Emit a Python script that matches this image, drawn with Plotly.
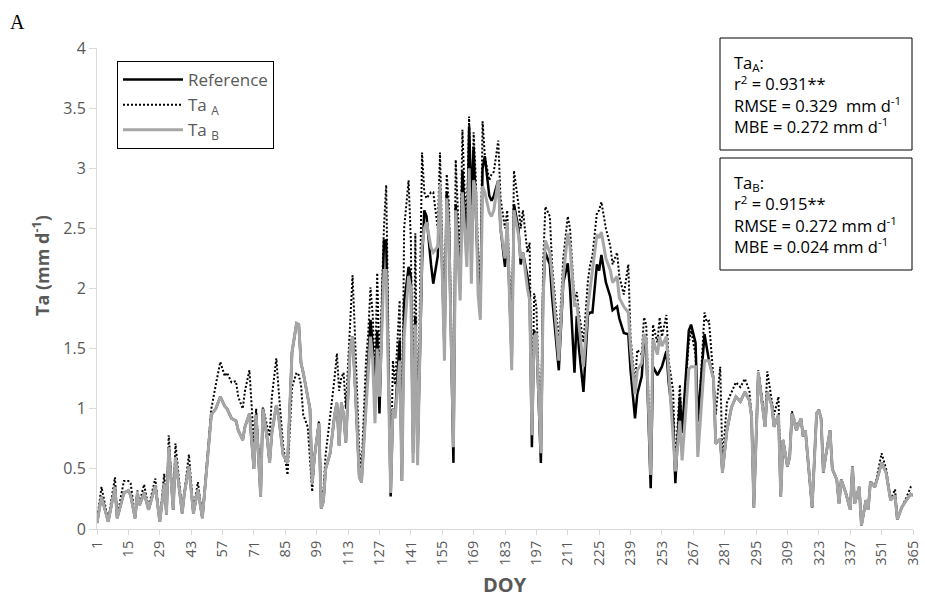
import plotly.graph_objects as go

# Day of year of each vertex
doy = [1, 3, 6, 9, 10, 13, 15, 16, 18, 19, 20, 22, 24, 27, 29, 31, 32, 33, 35, 36,
       39, 40, 42, 44, 46, 48, 50, 52, 54, 56, 58, 59, 61, 63, 64, 66, 67, 69, 71, 72,
       74, 75, 77, 78, 79, 81, 82, 84, 86, 88, 90, 91, 92, 93, 95, 96, 97, 98, 100, 101,
       102, 103, 105, 107, 108, 109, 110, 111, 112, 114, 115, 116, 118, 119, 121, 122, 123, 124, 125, 126,
       127, 129, 130, 132, 133, 134, 136, 137, 138, 140, 141, 142, 143, 144, 146, 147, 148, 150, 151, 153,
       154, 156, 157, 158, 160, 161, 163, 164, 165, 166, 167, 168, 169, 170, 171, 172, 173, 174, 176, 177,
       178, 180, 181, 183, 184, 186, 187, 189, 190, 191, 193, 194, 195, 196, 197, 199, 200, 201, 203, 204,
       207, 209, 211, 212, 214, 215, 216, 218, 220, 221, 222, 224, 225, 226, 228, 230, 231, 233, 234, 236,
       238, 239, 241, 242, 244, 245, 246, 248, 249, 251, 252, 253, 255, 256, 258, 259, 261, 262, 265, 266,
       268, 269, 272, 273, 274, 276, 277, 279, 280, 282, 284, 286, 288, 290, 292, 293, 294, 296, 298, 299,
       300, 302, 303, 305, 306, 307, 309, 310, 311, 313, 315, 316, 317, 319, 320, 322, 323, 324, 325, 326,
       328, 329, 331, 332, 333, 335, 337, 338, 339, 341, 342, 344, 345, 346, 348, 351, 353, 355, 357, 358,
       360, 362, 364, 365]

ta_b = [0.05, 0.27, 0.06, 0.35, 0.09, 0.30, 0.32, 0.28, 0.09, 0.30, 0.20, 0.30, 0.16, 0.36, 0.06, 0.38, 0.12, 0.68, 0.16, 0.60,
        0.13, 0.30, 0.52, 0.13, 0.33, 0.09, 0.52, 0.95, 1.00, 1.10, 1.02, 1.00, 0.92, 0.90, 0.82, 0.74, 0.85, 0.96, 0.50, 0.95,
        0.27, 1.00, 0.74, 0.55, 0.80, 1.03, 0.94, 0.62, 0.55, 1.47, 1.71, 1.70, 1.38, 1.30, 1.10, 1.00, 0.38, 0.60, 0.88, 0.17,
        0.23, 0.50, 0.63, 0.95, 1.05, 0.69, 1.05, 0.95, 0.72, 1.52, 1.60, 1.25, 0.43, 0.39, 1.00, 1.35, 1.60, 1.40, 0.88, 1.50,
        1.10, 2.15, 2.15, 0.30, 1.00, 0.92, 1.40, 0.40, 1.60, 2.10, 2.00, 0.55, 1.70, 0.53, 2.35, 2.50, 2.55, 2.34, 2.30, 2.35,
        2.87, 1.40, 2.75, 2.45, 0.68, 2.65, 1.90, 2.80, 2.50, 2.18, 3.00, 2.04, 2.90, 2.80, 1.95, 1.74, 2.85, 2.80, 2.63, 2.60,
        2.65, 2.90, 2.50, 2.25, 2.55, 1.32, 2.65, 2.45, 2.25, 2.30, 2.00, 1.90, 0.78, 1.60, 1.63, 0.63, 1.90, 2.40, 2.30, 2.10,
        1.40, 2.10, 2.46, 2.35, 1.85, 1.88, 1.70, 1.35, 1.85, 2.00, 2.10, 2.45, 2.42, 2.47, 2.25, 2.15, 2.05, 2.10, 1.92, 1.85,
        1.80, 1.50, 1.12, 1.32, 1.38, 1.62, 1.58, 0.45, 1.58, 1.45, 1.60, 1.52, 1.60, 1.33, 0.80, 0.48, 0.90, 0.57, 1.33, 1.35,
        1.35, 0.60, 1.40, 1.40, 1.40, 1.25, 0.71, 0.75, 0.47, 0.82, 1.01, 1.10, 1.06, 1.14, 1.07, 0.93, 0.18, 1.30, 1.01, 0.85,
        1.14, 1.03, 0.85, 0.95, 0.27, 0.74, 0.52, 0.60, 0.96, 0.82, 0.92, 0.77, 0.82, 0.38, 0.18, 0.96, 0.99, 0.92, 0.47, 0.60,
        0.82, 0.50, 0.41, 0.21, 0.41, 0.30, 0.16, 0.52, 0.21, 0.35, 0.03, 0.24, 0.16, 0.39, 0.35, 0.55, 0.47, 0.24, 0.28, 0.08,
        0.18, 0.24, 0.29, 0.28]

ta_a = [0.07, 0.35, 0.07, 0.43, 0.10, 0.40, 0.40, 0.38, 0.10, 0.32, 0.22, 0.37, 0.18, 0.42, 0.07, 0.46, 0.14, 0.78, 0.18, 0.71,
        0.15, 0.32, 0.62, 0.15, 0.39, 0.10, 0.55, 1.00, 1.20, 1.39, 1.27, 1.30, 1.22, 1.23, 1.10, 1.00, 1.15, 1.32, 0.72, 1.00,
        0.35, 1.01, 0.85, 0.77, 1.10, 1.42, 1.16, 0.70, 0.45, 1.18, 1.30, 1.28, 1.20, 0.95, 0.85, 0.57, 0.31, 0.60, 0.90, 0.30,
        0.32, 0.62, 0.93, 1.26, 1.46, 1.15, 1.26, 1.30, 1.00, 1.82, 2.11, 1.65, 0.65, 0.50, 1.40, 1.63, 2.01, 1.78, 1.20, 2.13,
        1.30, 2.51, 2.86, 0.35, 1.40, 1.20, 1.90, 0.45, 2.50, 2.90, 2.40, 0.70, 2.46, 0.60, 3.13, 2.80, 2.75, 2.80, 2.80, 2.50,
        3.13, 1.60, 2.95, 2.70, 0.70, 3.07, 2.20, 3.32, 2.80, 2.50, 3.43, 2.40, 3.30, 2.90, 2.30, 2.00, 3.39, 3.10, 2.90, 2.95,
        2.97, 3.23, 2.75, 2.50, 2.65, 1.50, 2.98, 2.70, 2.50, 2.65, 2.30, 2.38, 0.85, 1.96, 1.85, 0.70, 2.20, 2.68, 2.60, 2.20,
        1.55, 2.25, 2.60, 2.50, 1.90, 1.97, 1.80, 1.55, 2.07, 2.20, 2.27, 2.63, 2.65, 2.72, 2.50, 2.35, 2.20, 2.30, 2.10, 1.95,
        2.20, 1.60, 1.20, 1.49, 1.45, 1.76, 1.70, 0.50, 1.70, 1.55, 1.76, 1.60, 1.78, 1.40, 1.15, 0.50, 1.20, 0.80, 1.55, 1.65,
        1.45, 0.80, 1.80, 1.72, 1.73, 1.25, 0.95, 1.35, 0.55, 1.05, 1.13, 1.22, 1.18, 1.25, 1.15, 0.95, 0.20, 1.32, 1.05, 0.90,
        1.31, 1.08, 0.95, 1.10, 0.28, 0.74, 0.52, 0.60, 0.98, 0.85, 0.92, 0.77, 0.82, 0.38, 0.18, 0.96, 0.99, 0.92, 0.47, 0.60,
        0.82, 0.50, 0.41, 0.21, 0.41, 0.30, 0.16, 0.52, 0.21, 0.35, 0.03, 0.24, 0.16, 0.40, 0.35, 0.63, 0.50, 0.24, 0.33, 0.08,
        0.18, 0.26, 0.35, 0.36]

reference = [0.05, 0.27, 0.06, 0.35, 0.09, 0.30, 0.32, 0.28, 0.09, 0.30, 0.20, 0.30, 0.16, 0.36, 0.06, 0.38, 0.12, 0.68, 0.16, 0.60,
             0.13, 0.30, 0.52, 0.13, 0.33, 0.09, 0.52, 0.95, 1.00, 1.10, 1.02, 1.00, 0.92, 0.90, 0.82, 0.74, 0.85, 0.96, 0.50, 0.95,
             0.27, 1.00, 0.74, 0.55, 0.80, 1.03, 0.94, 0.62, 0.55, 1.47, 1.71, 1.70, 1.38, 1.30, 1.10, 1.00, 0.38, 0.60, 0.88, 0.17,
             0.23, 0.50, 0.63, 0.95, 1.05, 0.69, 1.05, 0.95, 0.72, 1.52, 1.60, 1.25, 0.43, 0.39, 1.05, 1.40, 1.74, 1.52, 1.15, 1.65,
             0.96, 2.40, 2.40, 0.27, 1.00, 0.95, 1.57, 0.40, 1.88, 2.18, 2.10, 0.63, 1.77, 0.60, 2.21, 2.65, 2.60, 2.20, 2.04, 2.27,
             2.80, 1.50, 2.80, 2.50, 0.55, 2.70, 2.00, 2.98, 2.63, 2.30, 3.35, 2.70, 3.18, 2.65, 2.10, 1.90, 3.00, 3.10, 2.77, 2.73,
             2.77, 2.90, 2.50, 2.18, 2.50, 1.40, 2.70, 2.50, 2.20, 2.30, 2.10, 1.95, 0.68, 1.65, 1.60, 0.55, 1.95, 2.30, 2.20, 1.93,
             1.32, 2.05, 2.21, 2.00, 1.30, 1.77, 1.50, 1.14, 1.78, 1.80, 1.80, 2.20, 2.15, 2.28, 2.05, 1.93, 1.82, 1.85, 1.75, 1.63,
             1.62, 1.32, 0.92, 1.12, 1.27, 1.56, 1.50, 0.34, 1.35, 1.28, 1.32, 1.35, 1.48, 1.22, 0.90, 0.38, 1.10, 0.80, 1.65, 1.70,
             1.55, 0.90, 1.62, 1.50, 1.40, 1.25, 0.71, 0.75, 0.47, 0.82, 1.01, 1.10, 1.06, 1.14, 1.07, 0.93, 0.18, 1.30, 1.01, 0.85,
             1.14, 1.03, 0.85, 0.95, 0.27, 0.74, 0.52, 0.60, 0.96, 0.82, 0.92, 0.77, 0.82, 0.38, 0.18, 0.96, 0.99, 0.92, 0.47, 0.60,
             0.82, 0.50, 0.41, 0.21, 0.41, 0.30, 0.16, 0.52, 0.21, 0.35, 0.03, 0.24, 0.16, 0.39, 0.35, 0.55, 0.47, 0.24, 0.28, 0.08,
             0.18, 0.24, 0.29, 0.28]

x_ticks = list(range(1, 366, 14))
x_tick_labels = [str(v) for v in x_ticks]

stats_a = ["Ta<sub>A</sub>:", "r<sup>2</sup> = 0.931**",
           "RMSE = 0.329\u00a0 mm d<sup>-1</sup>", "MBE = 0.272 mm d<sup>-1</sup>"]
stats_b = ["Ta<sub>B</sub>:", "r<sup>2</sup> = 0.915**",
           "RMSE = 0.272 mm d<sup>-1</sup>", "MBE = 0.024 mm d<sup>-1</sup>"]

FONT = "Open Sans"
GREY_TXT = "#595959"
AXIS_GREY = "#D9D9D9"

fig = go.Figure()
fig.add_trace(go.Scatter(x=doy, y=reference, mode="lines", name="Reference",
                         line=dict(color="black", width=2.5)))
fig.add_trace(go.Scatter(x=doy, y=ta_a, mode="lines", name="Ta <sub>A</sub>",
                         line=dict(color="black", width=2, dash="2px,2px")))
fig.add_trace(go.Scatter(x=doy, y=ta_b, mode="lines", name="Ta <sub>B</sub>",
                         line=dict(color="#A6A6A6", width=3)))

# plot-area pixel geometry helpers
L, R, T, B = 97, 913, 48, 529
def px(x):
    return (x - L) / (R - L)
def py(y):
    return (B - y) / (B - T)

shapes = [
    dict(type="rect", xref="paper", yref="paper", x0=px(720), x1=px(912), y0=py(150), y1=py(38),
         line=dict(color="black", width=1), fillcolor="white", layer="above"),
    dict(type="rect", xref="paper", yref="paper", x0=px(720), x1=px(912), y0=py(270), y1=py(158),
         line=dict(color="black", width=1), fillcolor="white", layer="above"),
]

annotations = []
for lines, yc in ((stats_a, 94), (stats_b, 215)):
    annotations.append(dict(text="<br>".join(lines), xref="paper", yref="paper", x=px(732), y=py(yc),
                            xanchor="left", yanchor="middle", align="left", showarrow=False,
                            font=dict(family=FONT, size=16.5, color="black")))

annotations.append(dict(text="<b>DOY</b>", xref="paper", yref="paper", x=px(505), y=py(584),
                        xanchor="center", yanchor="middle", showarrow=False,
                        font=dict(family=FONT, size=20, color=GREY_TXT)))
annotations.append(dict(text="<b>Ta (mm d<sup>-1</sup>)</b>", xref="paper", yref="paper",
                        x=px(41), y=py(265), xanchor="center", yanchor="middle",
                        textangle=-90, showarrow=False,
                        font=dict(family=FONT, size=18, color=GREY_TXT)))
annotations.append(dict(text="A", xref="paper", yref="paper", x=px(8), y=py(22),
                        xanchor="left", yanchor="middle", showarrow=False,
                        font=dict(family="Liberation Serif", size=20, color="black")))

fig.update_layout(
    width=925, height=604,
    margin=dict(l=L, r=925 - R, t=T, b=604 - B, autoexpand=False),
    paper_bgcolor="white", plot_bgcolor="white",
    font=dict(family=FONT, color=GREY_TXT),
    shapes=shapes, annotations=annotations,
    legend=dict(x=px(117), y=py(61), xanchor="left", yanchor="top",
                bordercolor="black", borderwidth=1, bgcolor="white",
                font=dict(family=FONT, size=17, color=GREY_TXT),
                itemwidth=60, tracegroupgap=0),
    xaxis=dict(range=[1, 365], tickmode="array", tickvals=x_ticks, ticktext=x_tick_labels,
               tickangle=-90, ticks="outside", ticklen=5, tickcolor=AXIS_GREY, automargin=False,
               showline=True, linecolor=AXIS_GREY, linewidth=1, showgrid=False, zeroline=False,
               tickfont=dict(family=FONT, size=14.5, color=GREY_TXT)),
    yaxis=dict(range=[0, 4], dtick=0.5, ticks="outside", ticklen=7, tickcolor=AXIS_GREY, automargin=False,
               showline=True, linecolor=AXIS_GREY, linewidth=1, showgrid=False, zeroline=False,
               tickfont=dict(family=FONT, size=16, color=GREY_TXT)),
)

fig.write_html("out.html")
